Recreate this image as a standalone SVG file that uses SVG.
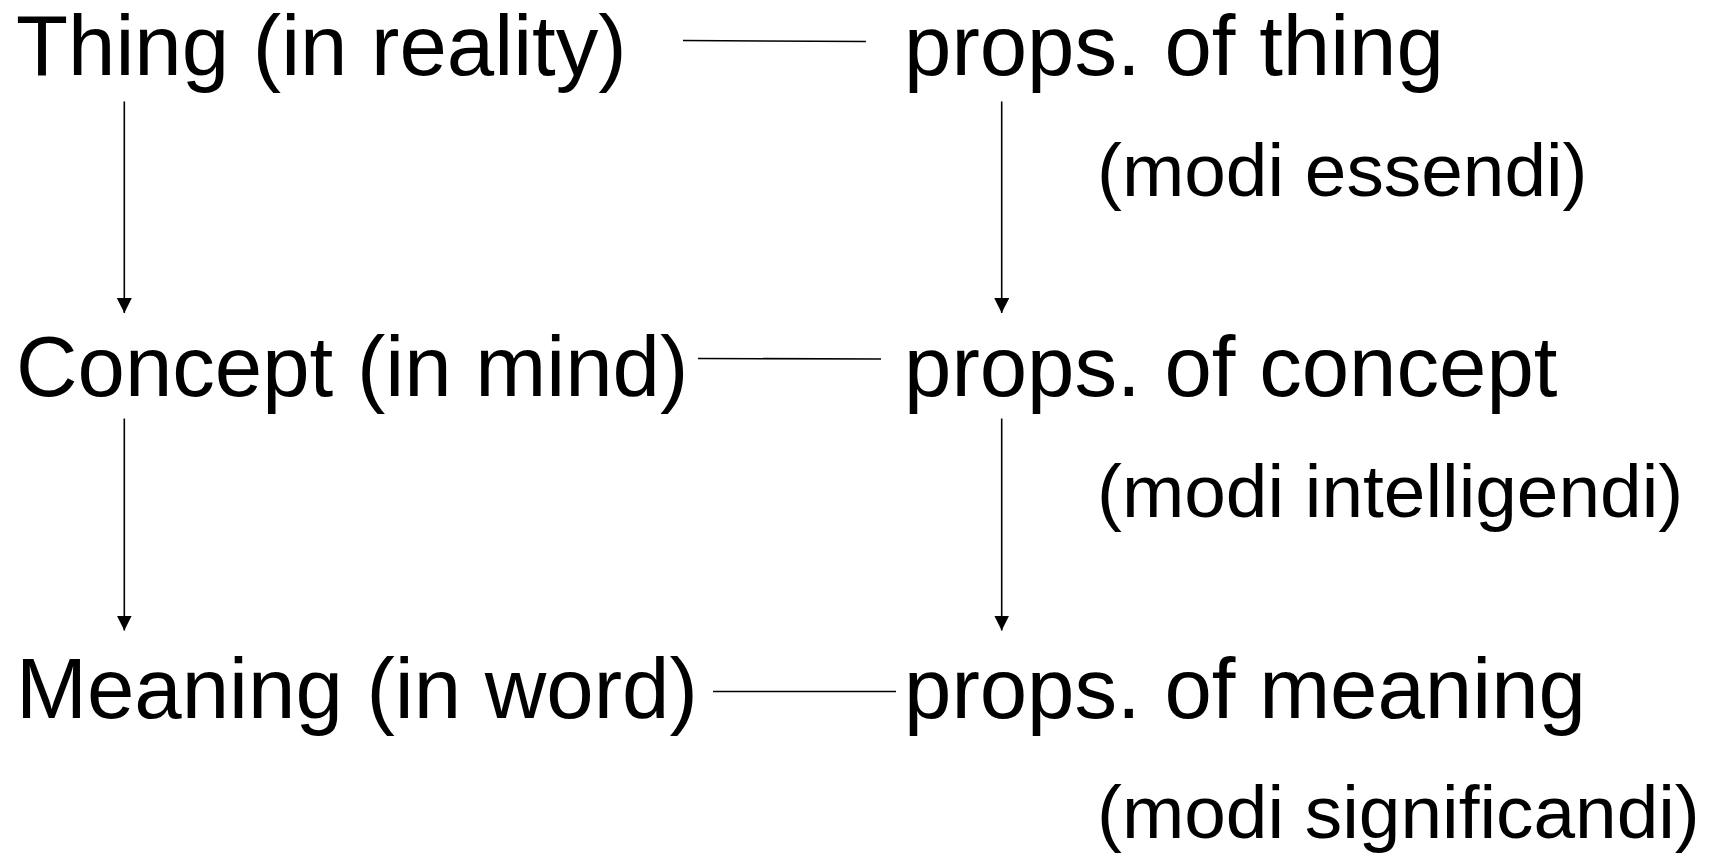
<svg xmlns="http://www.w3.org/2000/svg" width="1713" height="853" viewBox="0 0 1713 853">
<style>
  .main { font-family: "Liberation Sans", Arial, sans-serif; font-size: 85.2px; fill: #000; }
  .modi { font-family: "Liberation Sans", Arial, sans-serif; font-size: 74.8px; fill: #000; }
  .conn { stroke: #000; stroke-width: 1.6; fill: none; }
</style>
<defs>
  <marker id="arrow" markerUnits="userSpaceOnUse" markerWidth="16" markerHeight="16" refX="15" refY="7.5" orient="auto">
    <path d="M0,0 L15,7.5 L0,15 z" fill="#000"/>
  </marker>
</defs>
<rect width="1713" height="853" fill="#fff"/>
<g id="thing"><text class="main" x="16" y="75">Thing (in reality)</text></g>
<g id="concept"><text class="main" x="16" y="396">Concept (in mind)</text></g>
<g id="meaning"><text class="main" x="16" y="718">Meaning (in word)</text></g>
<g id="props-thing"><text class="main" x="904" y="75">props. of thing</text></g>
<g id="props-concept"><text class="main" x="904" y="396">props. of concept</text></g>
<g id="props-meaning"><text class="main" x="904" y="718">props. of meaning</text></g>
<g id="modi-essendi"><text class="modi" x="1097" y="196">(modi essendi)</text></g>
<g id="modi-intelligendi"><text class="modi" x="1097" y="517">(modi intelligendi)</text></g>
<g id="modi-significandi"><text class="modi" x="1097" y="838">(modi significandi)</text></g>
<g id="connectors">
  <line class="conn" x1="683" y1="40.5" x2="866" y2="41.5"/>
  <line class="conn" x1="698" y1="358.5" x2="881" y2="359"/>
  <line class="conn" x1="713" y1="691.5" x2="896" y2="691.5"/>
  <line class="conn" x1="124.3" y1="101.5" x2="124.3" y2="313" marker-end="url(#arrow)"/>
  <line class="conn" x1="124.3" y1="418.5" x2="124.3" y2="630.5" marker-end="url(#arrow)"/>
  <line class="conn" x1="1001.7" y1="101.5" x2="1001.7" y2="313" marker-end="url(#arrow)"/>
  <line class="conn" x1="1001.7" y1="418.5" x2="1001.7" y2="630.5" marker-end="url(#arrow)"/>
</g>
</svg>
